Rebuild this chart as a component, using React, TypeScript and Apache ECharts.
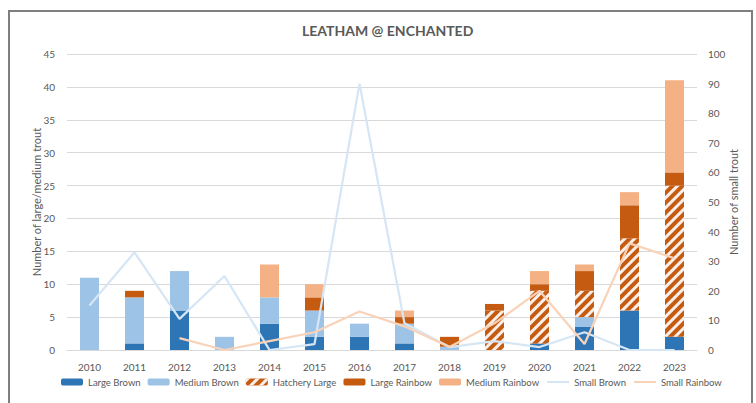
import React, { useEffect, useRef } from "react";
import * as echarts from "echarts";

const years = ["2010", "2011", "2012", "2013", "2014", "2015", "2016", "2017", "2018", "2019", "2020", "2021", "2022", "2023"];
const largeBrown = [0, 1, 6, 0, 4, 2, 2, 1, 0, 0, 1, 3.5, 6, 2];
const mediumBrown = [11, 7, 6, 2, 4, 4, 2, 3, 0.5, 0, 0, 1.5, 0, 0];
const hatcheryLarge = [0, 0, 0, 0, 0, 0, 0, 0, 0, 6, 8, 4, 11, 23];
const largeRainbow = [0, 1, 0, 0, 0, 2, 0, 1, 1.5, 1, 1, 3, 5, 2];
const mediumRainbow = [0, 0, 0, 0, 5, 2, 0, 1, 0, 0, 2, 1, 2, 14];
const smallBrown = [15, 33, 10.5, 25, 0, 2, 90, 9, 1, 3, 1, 6, 0, 0];
const smallRainbow = [null, null, 4, 0, 3, 6, 13, 8, 1, 9, 20, 2, 36, 31];

const FONT = "Lato, 'Liberation Sans', sans-serif";
const TEXT = "#595959";
const GRID_LINE = "#d9d9d9";

const C_LARGE_BROWN = "#2e75b6";
const C_MEDIUM_BROWN = "#9dc3e6";
const C_RAINBOW_DARK = "#c55a11";
const C_MEDIUM_RAINBOW = "#f4b183";
const C_SMALL_BROWN = "#d6e6f5";
const C_SMALL_RAINBOW = "#f9d3b9";

export default function App() {
  const ref = useRef<HTMLDivElement>(null);

  useEffect(() => {
    if (!ref.current) return;
    const chart = echarts.init(ref.current, null, { renderer: "svg" });

    const bar = (name: string, data: number[], color: string, extra: any = {}) => ({
      name,
      type: "bar",
      stack: "trout",
      yAxisIndex: 0,
      barWidth: 19,
      data,
      itemStyle: { color, ...extra },
    });

    // line series: hide the marker in the legend, keep only the stroke
    const lineLegend = (name: string) => ({ name, itemStyle: { opacity: 0 } });

    chart.setOption({
      animation: false,
      backgroundColor: "#ffffff",
      textStyle: { fontFamily: FONT },
      title: {
        text: "LEATHAM @ ENCHANTED",
        left: 297,
        top: 18,
        textStyle: { fontFamily: FONT, fontSize: 14, fontWeight: "bold", color: TEXT },
      },
      graphic: [
        {
          type: "rect",
          shape: { x: 9, y: 11, width: 743, height: 420 },
          style: { fill: "none", stroke: "#7f7f7f", lineWidth: 2 },
          silent: true,
          z: 100,
        },
      ],
      legend: {
        bottom: 11,
        left: 56,
        itemWidth: 22,
        itemHeight: 7,
        itemGap: 7,
        textStyle: { fontFamily: FONT, fontSize: 9.5, color: TEXT },
        data: [
          "Large Brown",
          "Medium Brown",
          "Hatchery Large",
          "Large Rainbow",
          "Medium Rainbow",
          lineLegend("Small Brown"),
          lineLegend("Small Rainbow"),
        ],
      },
      grid: { left: 67, right: 59, top: 54, bottom: 53 },
      xAxis: {
        type: "category",
        data: years,
        axisTick: { show: false },
        axisLine: { lineStyle: { color: GRID_LINE } },
        axisLabel: { color: TEXT, fontSize: 10, margin: 12, fontFamily: FONT },
      },
      yAxis: [
        {
          type: "value",
          min: 0,
          max: 45,
          interval: 5,
          name: "Number of large/medium trout",
          nameLocation: "middle",
          nameRotate: 90,
          nameGap: 25,
          nameMoveOverlap: false,
          nameTextStyle: { color: TEXT, fontSize: 11, fontFamily: FONT },
          axisLine: { show: false },
          axisTick: { show: false },
          axisLabel: { color: TEXT, fontSize: 10, margin: 12, fontFamily: FONT },
          splitLine: { lineStyle: { color: GRID_LINE } },
        },
        {
          type: "value",
          min: 0,
          max: 100,
          interval: 10,
          name: "Number of small trout",
          nameLocation: "middle",
          nameRotate: 90,
          nameGap: 31,
          nameMoveOverlap: false,
          nameTextStyle: { color: TEXT, fontSize: 11, fontFamily: FONT },
          axisLine: { show: false },
          axisTick: { show: false },
          axisLabel: { color: TEXT, fontSize: 10, margin: 11, fontFamily: FONT },
          splitLine: { show: false },
        },
      ],
      series: [
        bar("Large Brown", largeBrown, C_LARGE_BROWN),
        bar("Medium Brown", mediumBrown, C_MEDIUM_BROWN),
        bar("Hatchery Large", hatcheryLarge, C_RAINBOW_DARK, {
          decal: {
            symbol: "rect",
            symbolSize: 1,
            color: "rgba(255,255,255,0.9)",
            dashArrayX: [1, 0],
            dashArrayY: [2.5, 3.5],
            rotation: -Math.PI / 4,
          },
        }),
        bar("Large Rainbow", largeRainbow, C_RAINBOW_DARK),
        bar("Medium Rainbow", mediumRainbow, C_MEDIUM_RAINBOW),
        {
          name: "Small Brown",
          type: "line",
          yAxisIndex: 1,
          data: smallBrown,
          symbol: "none",
          lineStyle: { color: C_SMALL_BROWN, width: 2.25 },
          itemStyle: { color: C_SMALL_BROWN },
          z: 5,
        },
        {
          name: "Small Rainbow",
          type: "line",
          yAxisIndex: 1,
          data: smallRainbow,
          symbol: "none",
          lineStyle: { color: C_SMALL_RAINBOW, width: 2.25 },
          itemStyle: { color: C_SMALL_RAINBOW },
          z: 5,
        },
      ],
    });

    return () => chart.dispose();
  }, []);

  return (
    <div
      ref={ref}
      style={{ position: "absolute", left: 0, top: 0, width: 756, height: 403 }}
    />
  );
}
